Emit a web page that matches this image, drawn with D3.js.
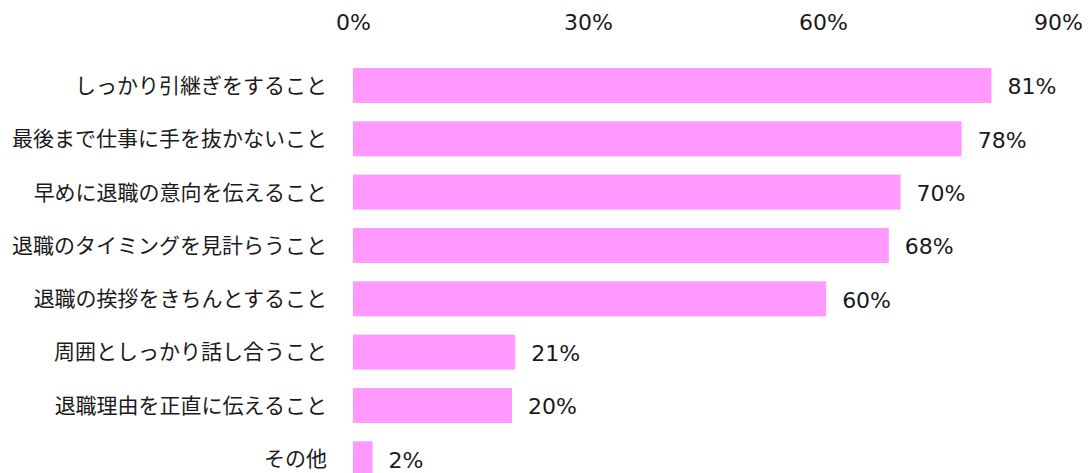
<!DOCTYPE html>
<html>
<head>
<meta charset="utf-8">
<script src="https://cdn.jsdelivr.net/npm/d3@7"></script>
<style>
  body { margin: 0; background: #fff; }
  svg text { fill: #1a1a1a; }
  .cat { font-family: "Noto Sans CJK JP", sans-serif; font-size: 21px; }
  .num { font-family: "DejaVu Sans", Verdana, sans-serif; font-size: 22px; }
</style>
</head>
<body>
<svg id="chart" width="1090" height="473"></svg>
<script>
const categories = [
  'しっかり引継ぎをすること',
  '最後まで仕事に手を抜かないこと',
  '早めに退職の意向を伝えること',
  '退職のタイミングを見計らうこと',
  '退職の挨拶をきちんとすること',
  '周囲としっかり話し合うこと',
  '退職理由を正直に伝えること',
  'その他'
];
const values = [81.5, 77.7, 69.9, 68.4, 60.4, 20.7, 20.3, 2.5];
const valueLabels = ['81%', '78%', '70%', '68%', '60%', '21%', '20%', '2%'];
const tickValues = [0, 30, 60, 90];

const data = categories.map((c, i) => ({ cat: c, value: values[i], label: valueLabels[i] }));

const svg = d3.select('#chart');

const xScale = d3.scaleLinear()
  .domain([0, 90])
  .range([353, 1058]);

const yScale = d3.scaleBand()
  .domain(categories)
  .range([68, 476.3])
  .paddingInner(0.344)
  .paddingOuter(0);

// top axis, labels only
const xAxisG = svg.append('g')
  .attr('transform', 'translate(0, 22)')
  .call(d3.axisTop(xScale)
    .tickValues(tickValues)
    .tickSize(0)
    .tickPadding(0)
    .tickFormat(d => d + '%'));
xAxisG.select('.domain').remove();
xAxisG.attr('font-size', null).attr('font-family', null);
xAxisG.selectAll('text')
  .attr('class', 'num')
  .attr('y', 0)
  .attr('dy', '0.35em')
  .attr('fill', '#1a1a1a');

svg.selectAll('rect.bar').data(data)
  .enter().append('rect')
    .attr('class', 'bar')
    .attr('x', xScale(0))
    .attr('y', d => yScale(d.cat))
    .attr('width', d => xScale(d.value) - xScale(0))
    .attr('height', yScale.bandwidth())
    .attr('fill', '#ff99ff');

svg.selectAll('text.cat').data(data)
  .enter().append('text')
    .attr('class', 'cat')
    .attr('x', 327)
    .attr('y', d => yScale(d.cat) + yScale.bandwidth() / 2)
    .attr('dy', '0.35em')
    .attr('text-anchor', 'end')
    .text(d => d.cat);

svg.selectAll('text.val').data(data)
  .enter().append('text')
    .attr('class', 'num val')
    .attr('x', d => xScale(d.value) + 16)
    .attr('y', d => yScale(d.cat) + yScale.bandwidth() / 2 + 1)
    .attr('dy', '0.35em')
    .text(d => d.label);
</script>
</body>
</html>
